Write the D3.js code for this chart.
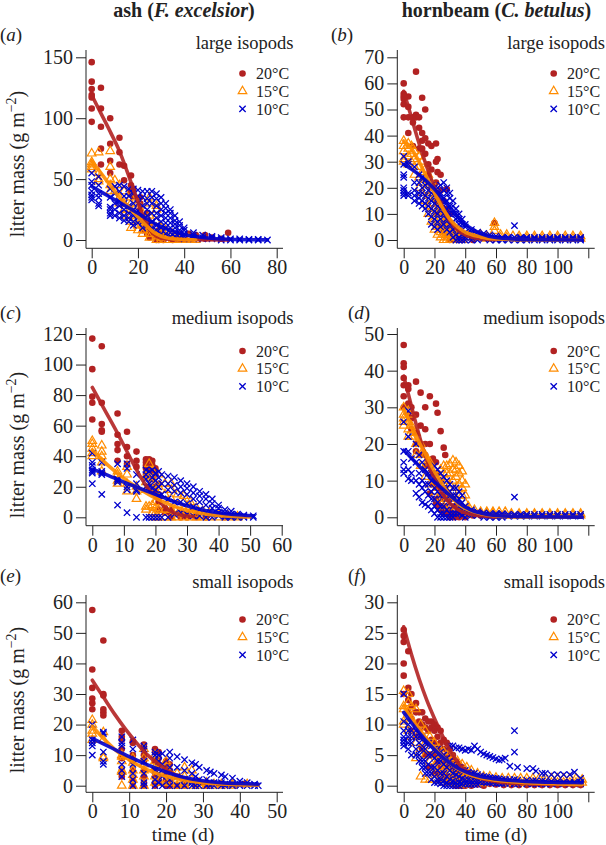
<!DOCTYPE html>
<html><head><meta charset="utf-8">
<script src="https://cdn.jsdelivr.net/npm/d3@7"></script>
<style>body{margin:0;background:#fff}svg{display:block}</style>
</head><body><svg id="chart" width="606" height="845"></svg>
<script>
// ---------- DATA (time in days, litter mass g m^-2), grouped as [day, [masses]] ----------
const temps = ["20°C", "15°C", "10°C"];
const sizeLabels = ["large isopods", "medium isopods", "small isopods"];
const panelLetters = ["a", "b", "c", "d", "e", "f"];

// (a) ash, large isopods
const ashLarge20 = [[0,[146,130,124,119,117,108,97]],[4,[125,108,93,75,62]],[8,[100,79,65,55]],[12,[84,72,62]],[14,[61,49]],[17,[53,45,40,38]],[18,[42,36]],[21,[35,30,25,20]],[22,[16,10,8]],[24,[22,14,5]],[25,[12,9,4,2]],[28,[6,3,1,0]],[29,[8,2,0]],[31,[4,1,0]],[35,[2,0]],[38,[3,1]],[42,[5]],[45,[4,2]],[49,[4,1]],[52,[2]],[56,[1]],[59,[6]]];
const ashLarge15 = [[0,[71,64,62,60,58]],[3,[72,55,50,48]],[8,[73,60,50,45,40]],[10,[49,40]],[12,[45,35,30]],[14,[40,30,25,20]],[17,[35,30,25,20,15,10]],[20,[30,25,20,15,12,8]],[22,[22,18,12,8,5]],[25,[35,30,20,15,10,5,2]],[28,[28,25,15,10,3,0]],[30,[10,5,2,0]],[32,[8,3,0]],[35,[5,2,0]],[38,[3,1,0]],[42,[1,0]],[45,[0]]];
const ashLarge10 = [[0,[55,48,45,40,37,35,33]],[3,[52,45,38,35,30,28]],[8,[42,35,27,25,22,20]],[10,[44,38,30,25,20]],[12,[45,40,32,28,22,18]],[14,[44,36,30,25,20,16]],[16,[42,36,28,22,18,15]],[18,[42,38,30,25,20,15,12]],[20,[41,36,30,24,18,14]],[22,[40,35,28,20,15,10]],[24,[40,34,30,25,20,12]],[26,[40,35,30,22,15,10]],[28,[38,34,28,22,18,12,8]],[30,[35,30,25,20,15,10,5]],[32,[30,26,22,18,14,10,5]],[34,[25,22,18,14,10,6,3]],[36,[20,16,13,10,6,3]],[38,[15,12,8,5,2]],[40,[10,8,5,3,1]],[44,[6,4,2,1]],[48,[4,2,1]],[52,[3,2,1]],[56,[2,1,0]],[60,[1,0]],[64,[1,0]],[68,[0.5,0]],[72,[0.5,0]],[76,[0]]];
const ashLarge20Fit = [[0,119],[4,104],[8,89],[12,73],[15,58],[18,42],[21,26],[24,12],[27,4.5],[30,1.5],[35,0.5],[45,0.2],[59,0.1]];
const ashLarge15Fit = [[0,65],[4,55],[8,45],[12,35],[16,27],[20,19],[24,11],[28,5],[32,2],[36,0.8],[40,0.3],[45,0.1]];
const ashLarge10Fit = [[0,44],[5,38.5],[10,33],[15,27.5],[20,22],[25,16],[30,11],[35,7.5],[40,4.5],[45,2.8],[50,1.7],[60,0.6],[70,0.2],[76,0.1]];

// (b) hornbeam, large isopods
const hornLarge20 = [[0,[60,56,55,54,52,47]],[3,[55,51,47,41]],[6,[47,45,36]],[8,[64.5,48,47]],[10,[47,43,35]],[12,[54.5,41,38,35]],[14,[50,39,33]],[16,[37,29,25]],[18,[36,27,20]],[21,[37,30,22,15]],[22,[31,26,18,10]],[24,[25,19,12,5]],[26,[15,10,6,3]],[28,[19.5,12,8,4,2]],[30,[10,6,3,1,0]],[32,[5,2,0]],[35,[3,1,0]],[38,[1,0]],[45,[1,0]],[59,[6.5]]];
const hornLarge15 = [[0,[38,36,34,31,30]],[3,[37,35,32,29]],[5,[36,33,30]],[7,[34,31,28,25]],[10,[32,28,24,20]],[12,[30,26,22,18]],[14,[27,23,19,15]],[16,[25,21,17,13,10]],[18,[22,18,14,10,7]],[20,[20,16,12,8,4]],[22,[16,12,8,5,2]],[24,[13,9,6,3,1]],[26,[10,7,4,2,0]],[28,[8,5,3,1,0]],[30,[6,4,2,0]],[32,[4,2,1,0]],[35,[3,1,0]],[38,[2,1,0]],[42,[2,1]],[46,[2,1]],[50,[2,1]],[54,[1.5,0.5]],[59,[6.5,5,3.5]],[63,[2,1]],[67,[2,1]],[71,[1.5]],[75,[1.5,0.5]],[80,[1.5,0.5]],[85,[1.5,0.5]],[90,[1.5,0.5]],[95,[1.5,0.5]],[100,[1.5,0.5]],[105,[1.5,0.5]],[110,[1.5,0.5]],[115,[1.5,0.5]]];
const hornLarge10 = [[0,[32,29,25,24,20,19,18,17]],[3,[30,29,18,17]],[7,[28,22,19,17,15]],[10,[25,22,18,16,14]],[12,[24,20,18,15,13]],[14,[23,21,17,14,12]],[16,[22,19,16,13,10]],[18,[21,18,15,12,9,6]],[20,[20,17,14,11,8,5]],[22,[20,16,13,10,7,4]],[24,[21,18,15,12,8,5]],[26,[22,19,16,13,10,6]],[28,[20,18,15,12,8,4]],[30,[18,16,13,10,6,3]],[32,[15,13,10,7,4,1]],[34,[12,10,8,5,2,0]],[36,[10,8,6,3,1,0]],[38,[8,6,4,2,0]],[40,[6,5,3,1,0]],[44,[4,3,2,1,0]],[48,[3,2,1,0]],[52,[2.5,1.5,0.5]],[56,[2,1,0]],[60,[1.5,0.5,0]],[64,[1,0.5,0]],[68,[1,0.5,0]],[72,[5.5,1,0]],[76,[1,0.5,0]],[80,[1,0.5,0]],[85,[1,0.5,0]],[90,[1,0.5,0]],[95,[1,0.5,0]],[100,[1,0.5,0]],[105,[1,0.5,0]],[110,[1,0.5,0]],[115,[1,0.5,0]]];
const hornLarge20Fit = [[0,57],[5,47],[10,37],[15,28],[20,20],[25,13],[30,7.5],[35,4],[40,2],[50,0.5],[60,0.1]];
const hornLarge15Fit = [[0,38],[5,35],[10,30],[15,24],[20,18],[25,12.5],[30,8],[35,5],[40,3],[50,1.2],[60,0.4],[80,0.1],[115,0]];
const hornLarge10Fit = [[0,29],[10,25],[20,19.5],[25,16],[30,12.5],[35,9],[40,6],[45,4],[50,2.5],[60,1],[80,0.2],[116,0]];

// (c) ash, medium isopods
const ashMed20 = [[0,[117,97,79,75,64]],[3,[112,75,61,57,56]],[8,[68,54,48,44,37]],[11,[56,46,40,35]],[14,[43,37,33]],[17,[38,36,34,32,28]],[18,[38,33,30]],[19,[37,34,30,25]],[20,[32,28,20,17]],[21,[22,15,10,5]],[23,[6,3]],[25,[5,2,0]],[28,[3,1,0]],[30,[2,0]],[33,[1,0]],[36,[0.5,0]],[42,[0]]];
const ashMed15 = [[0,[50,48,45,42,40]],[3,[47,43,40,36,30]],[8,[30,28,24,22]],[11,[33,28,22,17]],[14,[20,17,12]],[17,[27,23,18,7,5]],[18,[35,26,20,7]],[19,[30,22,8,3]],[20,[22,17,10,6,3,0]],[21,[28,20,14,5,0]],[23,[22,15,5,0]],[25,[22,18,12,5,0]],[27,[15,8,2,0]],[29,[14,10,5,0]],[31,[10,7,3,0]],[33,[6,2,0]],[35,[4,1,0]],[37,[3,0]],[40,[2,0]],[43,[1,0]],[46,[0.5,0]]];
const ashMed10 = [[0,[42,36,34,31,30,29,22]],[3,[36,30,29,28,15]],[8,[35,25,24,23,8]],[11,[35,32,20,18,3]],[14,[28,22,18,17,0]],[17,[31,28,25,20,0]],[18,[30,22,20,0]],[19,[31,26,19,0]],[20,[29,24,18,0]],[21,[30,26,20,14,0]],[22,[28,22,15,0]],[24,[27,22,18,12,0]],[26,[26,21,17,10,2]],[28,[24,20,16,10,3]],[30,[22,19,15,9,2]],[32,[20,16,12,7,1]],[34,[17,14,10,5,1]],[36,[15,12,8,3,0]],[38,[12,9,6,2,0]],[40,[8,6,3,1]],[42,[5,3,1,0]],[44,[4,2,1,0]],[46,[2,1,0]],[48,[1.5,0.5,0]],[51,[1,0]]];
const ashMed20Fit = [[0,85],[4,70],[8,55],[12,39],[16,24],[20,13],[24,5],[28,1.5],[32,0.5]];
const ashMed15Fit = [[0,44],[5,34],[10,25.5],[15,18.5],[20,12.5],[25,8],[30,4.5],[35,2.5],[40,1.2],[45,0.6],[50,0.2]];
const ashMed10Fit = [[0,31.5],[5,27.5],[10,23],[15,19],[20,15],[25,11],[30,7.5],[35,4.8],[40,3],[45,1.8],[51,1]];

// (d) hornbeam, medium isopods
const hornMed20 = [[0,[47,42,41,38,36,33,30]],[3,[36,35,31,28]],[5,[30,27,24]],[8,[37,28,23,20,18]],[11,[34,25,20,17]],[14,[30,24,20,17,14]],[17,[33,20,15,6.5]],[19,[16,12,9]],[21,[31,15,10,5,4]],[22,[28.5,12,8,4,3]],[24,[23.5,10,6,3,2]],[26,[19,8,5,2,1]],[27,[17,6,3,1]],[30,[5,2,1,0]],[33,[3,1,0]],[36,[2,1,0]],[40,[1,0]],[45,[1,0.5]],[50,[1,0.5]],[55,[0.5]],[60,[0.5]]];
const hornMed15 = [[0,[30,28,27,26,25]],[3,[29,26,24,22]],[5,[28,25,22]],[8,[23,20,17]],[11,[20,17,14]],[14,[17,14,11]],[17,[15,12,9]],[20,[13,10,7]],[22,[10,8,5]],[24,[13,11,8,5]],[26,[14,12,9,5,3]],[28,[14,12,10,7,4]],[30,[14.5,12,9,6,3]],[32,[15.5,13,10,7]],[34,[15,13,11,8,5]],[36,[14,12,9,6]],[38,[12.5,10,8,6]],[40,[9,6,4]],[42,[3,2,1]],[46,[2,1]],[50,[1.5,1]],[54,[1.5,1]],[58,[1.5,1]],[62,[1.5,0.5]],[66,[1.5,0.5]],[70,[1,0.5]],[75,[1,0.5]],[80,[1,0.5]],[85,[1,0.5]],[90,[1,0.5]],[95,[1,0.5]],[100,[1,0.5]],[105,[1,0.5]],[110,[1,0.5]],[115,[1,0.5]]];
const hornMed10 = [[0,[26,18,15,13,12]],[3,[29,22,18,13,10.5]],[5,[16,12,10]],[8,[20,15,10,6.5]],[10,[17,12,9,5.5]],[12,[15,10,8,4]],[14,[13,9,7,3.5]],[16,[12,9,6,3]],[18,[12,10,7,5,2]],[20,[14,11,8,5,3,1]],[22,[13,10,7,4,2,0]],[24,[12,9,6,3,1,0]],[26,[11,8,6,3,1,0]],[28,[10,8,5,2,0]],[30,[9,7,4,1,0]],[32,[8,6,3,1,0]],[34,[8,6,4,1]],[36,[7,5,3,1]],[38,[6,4,2,0.5]],[40,[3,2,1,0]],[44,[2,1,0.5]],[48,[1.5,1,0.5]],[52,[1.2,0.6,0]],[56,[1,0.5,0]],[60,[1,0.5,0]],[64,[1,0.5,0]],[68,[0.8,0.3]],[72,[5.5,0.8,0.3]],[76,[0.8,0.3]],[80,[0.8,0.3]],[85,[0.8,0.3]],[90,[0.8,0.3]],[95,[0.8,0.3]],[100,[0.8,0.3]],[105,[0.8,0.3]],[110,[0.8,0.3]],[115,[0.8,0.3]]];
const hornMed20Fit = [[0,38.5],[4,32],[8,25.5],[12,19.5],[16,14.5],[20,10.5],[25,6.5],[30,3.8],[35,2.2],[40,1.2],[50,0.4],[60,0.1]];
const hornMed15Fit = [[0,29.5],[5,25],[10,20.5],[15,16.5],[20,12.5],[25,9],[30,6],[35,3.8],[40,2.4],[50,1],[60,0.4],[80,0.1],[116,0]];
const hornMed10Fit = [[0,18.3],[5,16.2],[10,14],[15,11.8],[20,9.7],[25,7.8],[30,6],[35,4.3],[40,2.8],[45,1.8],[50,1.2],[60,0.5],[80,0.15],[116,0.05]];

// (e) ash, small isopods
const ashSmall20 = [[0,[57.5,38,32,28.5,27,25]],[3,[47.5,30,29.5,25,24,23]],[8,[18,16,15,12,9,5,3]],[11,[14.5,14,10,8,5,2,0]],[14,[13.5,12.5,10,8,5,3,1,0]],[17,[12,11,8,5,3,1,0]],[18,[11,9,7,3,1]],[20,[8,6,4,2,0]],[21,[7,5,2,0]],[23,[3,0]],[25,[2,0]],[28,[1,0]],[31,[0.5,0]],[35,[0.5]],[41,[0.5]]];
const ashSmall15 = [[0,[21.5,20,18,17,15]],[3,[17.5,15,9.5,9]],[8,[10,9.5,8,5,4.5,0]],[11,[9,7.5,5,3.5,2,0]],[14,[12,9,7,5,3,0]],[17,[10,8,6,3,1]],[18,[7,5,2]],[20,[8,6,4,1]],[21,[5,3,1]],[23,[4,2,0]],[25,[6,3,1,0]],[27,[5,2,0]],[29,[1,0]],[31,[1,0]],[33,[0.5,0]],[35,[0.5,0]],[38,[0.5,0]],[42,[0.5]]];
const ashSmall10 = [[0,[20,15,14,13,10]],[3,[17.5,17,11,8,7]],[8,[16,14,13,7,5,3]],[11,[15,12,7,4,2,0]],[14,[13,12,8,4,1,0]],[17,[11,10,5,2,0]],[18,[10,8,4,1]],[19,[10.5,7,3,0]],[21,[11,9,6,2,0]],[23,[9.5,6,3,0]],[25,[8.5,5,2,0]],[27,[7.5,4,1,0]],[28,[7,3,0]],[29,[6,2,0]],[31,[5,2,0]],[32,[4.5,1,0]],[33,[4,1,0]],[35,[3.5,1,0]],[36,[3,0.5,0]],[38,[2.5,0.5,0]],[40,[1.5,0.5,0]],[42,[1,0]],[44,[0.5,0]],[45,[0]]];
const ashSmall20Fit = [[0,34.5],[3,29],[6,23.5],[9,18.5],[12,14],[15,10],[18,7],[21,4.5],[25,2.3],[30,1],[35,0.6],[41,0.4]];
const ashSmall15Fit = [[0,19.5],[3,15.5],[6,12],[9,9.3],[12,7],[15,5.2],[18,3.8],[21,2.8],[25,1.8],[30,1],[35,0.6],[40,0.3],[45,0.2]];
const ashSmall10Fit = [[0,15.5],[5,12.5],[10,9.5],[15,6.8],[20,4.5],[25,2.7],[30,1.6],[35,1],[40,0.7],[45,0.5]];

// (f) hornbeam, small isopods
const hornSmall20 = [[0,[25.5,24.5,23.5,20,18,15]],[3,[22,16,14,12]],[5,[15,13,11,9]],[8,[13.5,12,10,8]],[10,[12,10.5,9]],[12,[12,10,8,6]],[14,[11,9.5,7.5,5]],[16,[10.5,9,7,5,3]],[18,[10.5,9.5,7.5,5,3]],[20,[10,9,7,5,2]],[22,[9.5,8,6,4,2]],[24,[9,7,5,3,1]],[26,[7.5,6,4,2,1]],[28,[7,5,3,1.5,0.5]],[30,[6,4.5,3,1.5,0.5]],[32,[5,4,2.5,1,0.2]],[34,[4,3,2,1,0]],[36,[3.5,2.5,1.5,0.5,0]],[38,[3,2,1,0.3,0]],[40,[2.5,1.5,0.8,0]],[44,[2,1.2,0.5,0]],[48,[1.5,0.8,0.2]],[52,[1,0.5,0]],[56,[0.8,0.3]],[60,[0.6,0.2]],[65,[0.5,0.1]],[70,[0.5,0.1]],[75,[0.4,0.1]],[80,[0.4,0.1]],[85,[0.4,0.1]],[90,[0.4,0.1]],[95,[0.4,0.1]],[100,[0.4,0.1]],[105,[0.4,0.1]],[110,[0.4,0.1]],[115,[0.4,0.1]]];
const hornSmall15 = [[0,[15.5,13,12.5,10.5,10]],[3,[15,13.5,12,9]],[5,[13,11,8]],[8,[12.5,9,7,4.5]],[11,[10,8,6,1.5]],[14,[9,7,5,1]],[17,[8,6,4,1]],[20,[7,5,3,1]],[23,[6,4.5,3,1]],[26,[5.5,4,2.5,0.5]],[29,[5,3.5,2,0.5]],[32,[4.5,3,1.5,0.5]],[35,[4,2.5,1,0.3]],[38,[3.5,2,1,0.3]],[41,[3,2,0.8,0.2]],[44,[2.5,1.5,0.5]],[48,[2,1.2,0.5]],[52,[1.5,1,0.4]],[56,[1.5,0.8]],[60,[1.3,0.6]],[64,[1.2,0.5]],[68,[1.2,0.5]],[72,[1.2,0.5]],[76,[1.2,0.5]],[80,[1.2,0.5]],[84,[1.2,0.5]],[88,[1.2,0.5]],[92,[1.2,0.5]],[96,[1.2,0.5]],[100,[1.2,0.5]],[104,[1.2,0.5]],[108,[1.2,0.5]],[112,[1.2,0.5]],[116,[1,0.5]]];
const hornSmall10 = [[0,[15,10.5,9,8,7.5,7,6.5]],[3,[10,9,8,7,6]],[5,[9,8,7,5]],[8,[9,8,6,5]],[10,[8,7,5,4]],[12,[8,6,4,3]],[14,[7,6,4,3,2]],[16,[7,5,3.5,2]],[18,[6.5,5,3,2,1]],[20,[6,4.5,3,1.5,0.5]],[22,[6,4,2.5,1,0.5]],[24,[5.5,4,2,1,0.3]],[26,[5,3.5,2,0.8,0]],[28,[4.5,3,1.5,0.5,0]],[30,[6.5,4,2.5,1,0]],[32,[6.5,3.5,2,0.8,0]],[34,[6.2,3,1.8,0.5,0]],[36,[6.2,3,1.5,0.5,0]],[38,[6,2.5,1.2,0.3]],[40,[5.8,2.5,1,0.3]],[42,[6,2.2,1,0.2]],[44,[5.8,2,0.8,0.2]],[46,[6.5,2,0.8,0.2]],[48,[6,1.8,0.7,0.2]],[50,[5.5,1.6,0.6]],[52,[5.2,1.5,0.6]],[54,[5,1.4,0.5]],[56,[4.8,1.3,0.5]],[58,[4.6,1.2,0.5]],[60,[4.4,1.2,0.4]],[62,[4.2,1.1,0.4]],[64,[4.3,1,0.4]],[66,[4.5,1,0.4]],[69,[3.2,1,0.4]],[72,[9,5.5,1,0.3]],[74,[3,0.9,0.3]],[80,[2.8,0.9,0.3]],[84,[2.8,0.8,0.3]],[86,[2.4,0.8,0.3]],[90,[2,0.8,0.3]],[92,[2,0.7,0.3]],[96,[1.8,0.7,0.3]],[100,[1.8,0.7,0.3]],[104,[1.8,0.6,0.3]],[108,[1.8,0.6,0.3]],[111,[2.2,0.6,0.3]],[115,[1.2,0.6,0.3]]];
const hornSmall20Fit = [[0,26],[5,21.5],[10,17.5],[15,14],[20,11],[25,8.3],[30,5.8],[35,3.8],[40,2.5],[45,1.7],[50,1.2],[60,0.7],[70,0.4],[80,0.3],[100,0.2],[116,0.1]];
const hornSmall15Fit = [[0,13],[5,11],[10,9.3],[15,7.6],[20,6.2],[25,4.8],[30,3.7],[35,2.8],[40,2.1],[50,1.3],[60,0.9],[80,0.5],[100,0.3],[116,0.2]];
const hornSmall10Fit = [[0,12],[5,10.3],[10,8.7],[15,7.2],[20,5.9],[25,4.7],[30,3.7],[35,2.9],[40,2.3],[50,1.5],[60,1.1],[80,0.7],[100,0.55],[116,0.5]];

// axis ticks
const xTicksA = [0,20,40,60,80];
const xTicksC = [0,10,20,30,40,50,60];
const xTicksE = [0,10,20,30,40,50];
const xTicksH = [0,20,40,60,80,100,120];
const xLabelsH = [0,20,40,60,80,100];
const yTicksA = [0,50,100,150];
const yTicksB = [0,10,20,30,40,50,60,70];
const yTicksC = [0,20,40,60,80,100,120];
const yTicksD = [0,10,20,30,40,50];
const yTicksE = [0,10,20,30,40,50,60];
const yTicksF = [0,5,10,15,20,25,30];

// ---------- LAYOUT (pixels) ----------
const colLeft = [86, 397.3], colRight = [283, 594.7];
const rowTop = [50, 328, 595], rowBottom = [248.3, 525.7, 792.3];
const rowY0 = [240, 517.3, 785.7], rowYTop = [57.3, 334, 602.3];
const colors = ["#B22222", "#FF8C00", "#0000CD"];
const FONT = "'Liberation Serif','Times New Roman',Times,serif";

const panels = [
  {col:0,row:0,series:[ashLarge20,ashLarge15,ashLarge10],fits:[ashLarge20Fit,ashLarge15Fit,ashLarge10Fit],xt:xTicksA,xl:xTicksA,xPix:[91.7,276.7],yt:yTicksA},
  {col:1,row:0,series:[hornLarge20,hornLarge15,hornLarge10],fits:[hornLarge20Fit,hornLarge15Fit,hornLarge10Fit],xt:xTicksH,xl:xLabelsH,xPix:[403.7,588.3],yt:yTicksB},
  {col:0,row:1,series:[ashMed20,ashMed15,ashMed10],fits:[ashMed20Fit,ashMed15Fit,ashMed10Fit],xt:xTicksC,xl:xTicksC,xPix:[92.3,281.7],yt:yTicksC},
  {col:1,row:1,series:[hornMed20,hornMed15,hornMed10],fits:[hornMed20Fit,hornMed15Fit,hornMed10Fit],xt:xTicksH,xl:xLabelsH,xPix:[403.7,588.3],yt:yTicksD},
  {col:0,row:2,series:[ashSmall20,ashSmall15,ashSmall10],fits:[ashSmall20Fit,ashSmall15Fit,ashSmall10Fit],xt:xTicksE,xl:xTicksE,xPix:[92.3,276.7],yt:yTicksE},
  {col:1,row:2,series:[hornSmall20,hornSmall15,hornSmall10],fits:[hornSmall20Fit,hornSmall15Fit,hornSmall10Fit],xt:xTicksH,xl:xLabelsH,xPix:[403.7,588.3],yt:yTicksF}
];

const svg = d3.select("#chart").style("font-family", FONT);
const flat = s => s.flatMap(([x, ys]) => ys.map(y => [x, y]));
const triPath = d3.symbol(d3.symbolTriangle, 32)();
const xPath = d3.symbol(d3.symbolX, 28)();

function drawMarker(sel, k, color) {
  if (k === 0) return sel.append("circle").attr("r", 3.3).attr("fill", color);
  return sel.append("path").attr("d", k === 1 ? triPath : xPath)
    .attr("fill", "none").attr("stroke", color).attr("stroke-width", k === 1 ? 1.2 : 1.3);
}

panels.forEach((p, i) => {
  const L = colLeft[p.col], R = colRight[p.col], T = rowTop[p.row], B = rowBottom[p.row];
  const x = d3.scaleLinear().domain([p.xt[0], p.xt[p.xt.length - 1]]).range(p.xPix);
  const y = d3.scaleLinear().domain([0, p.yt[p.yt.length - 1]]).range([rowY0[p.row], rowYTop[p.row]]);
  const g = svg.append("g");

  // L-shaped box
  g.append("path").attr("d", `M${L},${T}V${B}H${R}`).attr("fill", "none").attr("stroke", "#222").attr("stroke-width", 1);

  const ya = g.append("g").attr("transform", `translate(${L},0)`)
    .call(d3.axisLeft(y).tickValues(p.yt).tickSize(10).tickPadding(3));
  const xa = g.append("g").attr("transform", `translate(0,${B})`)
    .call(d3.axisBottom(x).tickValues(p.xt).tickSize(10).tickPadding(2)
      .tickFormat(v => p.xl.includes(v) ? v : ""));
  [ya, xa].forEach(a => {
    a.select(".domain").remove();
    a.selectAll("line").attr("stroke", "#222");
    a.selectAll("text").attr("font-family", FONT).attr("font-size", 20).attr("fill", "#222");
  });

  // points
  p.series.forEach((s, k) => {
    const pg = g.append("g");
    flat(s).forEach(d => {
      drawMarker(pg, k, colors[k]).attr("transform", `translate(${x(d[0])},${y(d[1])})`);
    });
  });
  // fitted curves
  const line = d3.line().x(d => x(d[0])).y(d => y(d[1])).curve(d3.curveMonotoneX);
  p.fits.forEach((f, k) => {
    g.append("path").datum(f).attr("d", line).attr("fill", "none")
      .attr("stroke", colors[k]).attr("stroke-width", 3.6).attr("stroke-opacity", 0.9)
      .attr("stroke-linecap", "round");
  });

  // legend
  const lx = p.col === 0 ? 242.5 : 553.7, tx = p.col === 0 ? 256 : 567;
  const ly0 = [73.5, 351, 619.5][p.row];
  temps.forEach((t, k) => {
    const yy = ly0 + k * 17.7;
    drawMarker(g, k, colors[k]).attr("transform", `translate(${lx},${yy})`);
    g.append("text").attr("x", tx).attr("y", yy + 5.6).attr("font-size", 16).attr("fill", "#222").text(t);
  });

  // size label
  const sx = p.col === 0 ? 293.5 : 605;
  g.append("text").attr("x", sx).attr("y", [48.5, 324, 588][p.row]).attr("text-anchor", "end")
    .attr("font-size", 18.5).attr("fill", "#222").text(sizeLabels[p.row]);

  // panel letter
  const plx = p.col === 0 ? 0 : (p.row === 0 ? 331 : 348);
  const pt = g.append("text").attr("x", plx).attr("y", [41, 319, 582][p.row]).attr("font-size", 19).attr("fill", "#222");
  pt.append("tspan").text("(");
  pt.append("tspan").attr("font-style", "italic").text(panelLetters[i]);
  pt.append("tspan").text(")");

  // y label (left column)
  if (p.col === 0) {
    const cy = [164, 445, 700][p.row];
    const yl = g.append("text").attr("transform", `translate(24,${cy}) rotate(-90)`)
      .attr("text-anchor", "middle").attr("font-size", 20).attr("fill", "#222");
    yl.append("tspan").text("litter mass (g m");
    yl.append("tspan").attr("font-size", 14).attr("dy", -8).text("−2");
    yl.append("tspan").attr("dy", 8).text(")");
  }
  // x label (bottom row)
  if (p.row === 2) {
    g.append("text").attr("x", p.col === 0 ? 183 : 496).attr("y", 841).attr("text-anchor", "middle")
      .attr("font-size", 19.5).attr("fill", "#222").text("time (d)");
  }
});

// column titles
const titleData = [["ash", "F. excelsior", 184], ["hornbeam", "C. betulus", 496.5]];
titleData.forEach(([common, latin, cx]) => {
  const t = svg.append("text").attr("x", cx).attr("y", 17).attr("text-anchor", "middle")
    .attr("font-size", 20).attr("font-weight", "bold").attr("fill", "#222");
  t.append("tspan").text(common + " (");
  t.append("tspan").attr("font-style", "italic").text(latin);
  t.append("tspan").text(")");
});
</script></body></html>
